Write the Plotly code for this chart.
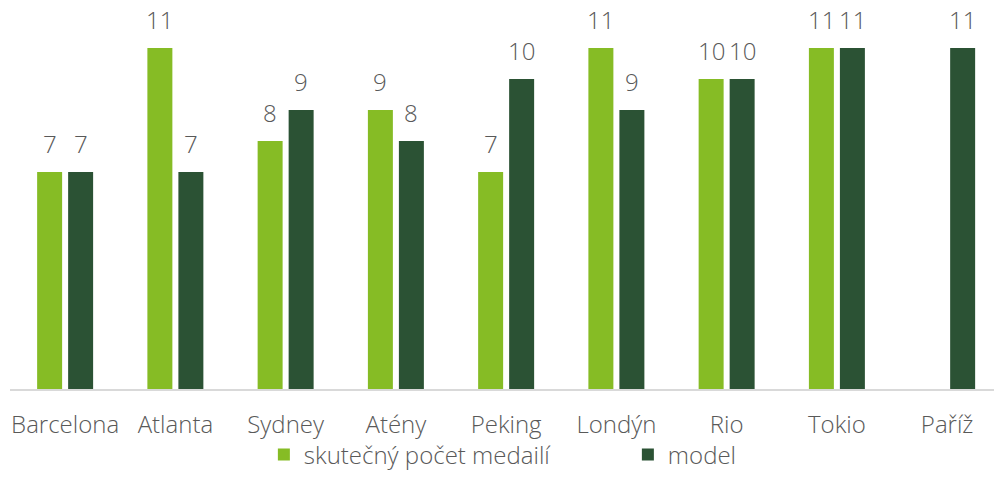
import plotly.graph_objects as go

categories = ["Barcelona", "Atlanta", "Sydney", "Atény", "Peking", "Londýn", "Rio", "Tokio", "Paříž"]
actual = [7, 11, 8, 9, 7, 11, 10, 11, None]
model = [7, 7, 9, 8, 10, 9, 10, 11, 11]

series_names = ["skutečný počet medailí", "model"]
series_colors = ["#86BC25", "#2B5234"]
series_values = [actual, model]

FONT = "Open Sans"
GRAY = "#595959"
FS = 24

fig = go.Figure()
for name, color, vals in zip(series_names, series_colors, series_values):
    fig.add_trace(go.Bar(
        x=categories, y=vals, name=name,
        marker=dict(color=color, line=dict(width=0)),
        hoverinfo="skip",
    ))

annotations = []
offsets = [-15.5, 15.5]
for off, vals in zip(offsets, series_values):
    for c, v in zip(categories, vals):
        if v is None:
            continue
        annotations.append(dict(
            x=c, y=v, xref="x", yref="y", text=str(v), showarrow=False,
            xshift=off, yshift=29, yanchor="middle", xanchor="center",
            font=dict(family=FONT, size=FS, color=GRAY, weight=300),
        ))

fig.update_layout(
    width=994, height=494,
    margin=dict(l=10, r=0, t=17, b=105, autoexpand=False),
    paper_bgcolor="white", plot_bgcolor="white",
    barmode="group", bargap=0.4376, bargroupgap=0.194,
    font=dict(family=FONT, size=FS, color=GRAY, weight=300),
    showlegend=True,
    legend=dict(
        orientation="h", x=0.258, xanchor="left",
        yref="container", y=0.079, yanchor="middle",
        bgcolor="rgba(0,0,0,0)",
        font=dict(family=FONT, size=FS, color=GRAY, weight=300),
        entrywidth=319, itemwidth=30,
    ),
    annotations=annotations,
    xaxis=dict(
        type="category", range=[-0.5, 8.425], automargin=False,
        showline=True, linecolor="#D9D9D9", linewidth=1.5,
        ticks="outside", ticklen=13, tickcolor="rgba(0,0,0,0)",
        tickfont=dict(family=FONT, size=FS, color=GRAY, weight=300),
        showgrid=False, zeroline=False,
    ),
    yaxis=dict(
        range=[0, 12], visible=False, showgrid=False, zeroline=False,
        automargin=False,
    ),
)

fig.write_html("out.html", config={"displayModeBar": False},
               post_script="document.body.style.margin='0';")
